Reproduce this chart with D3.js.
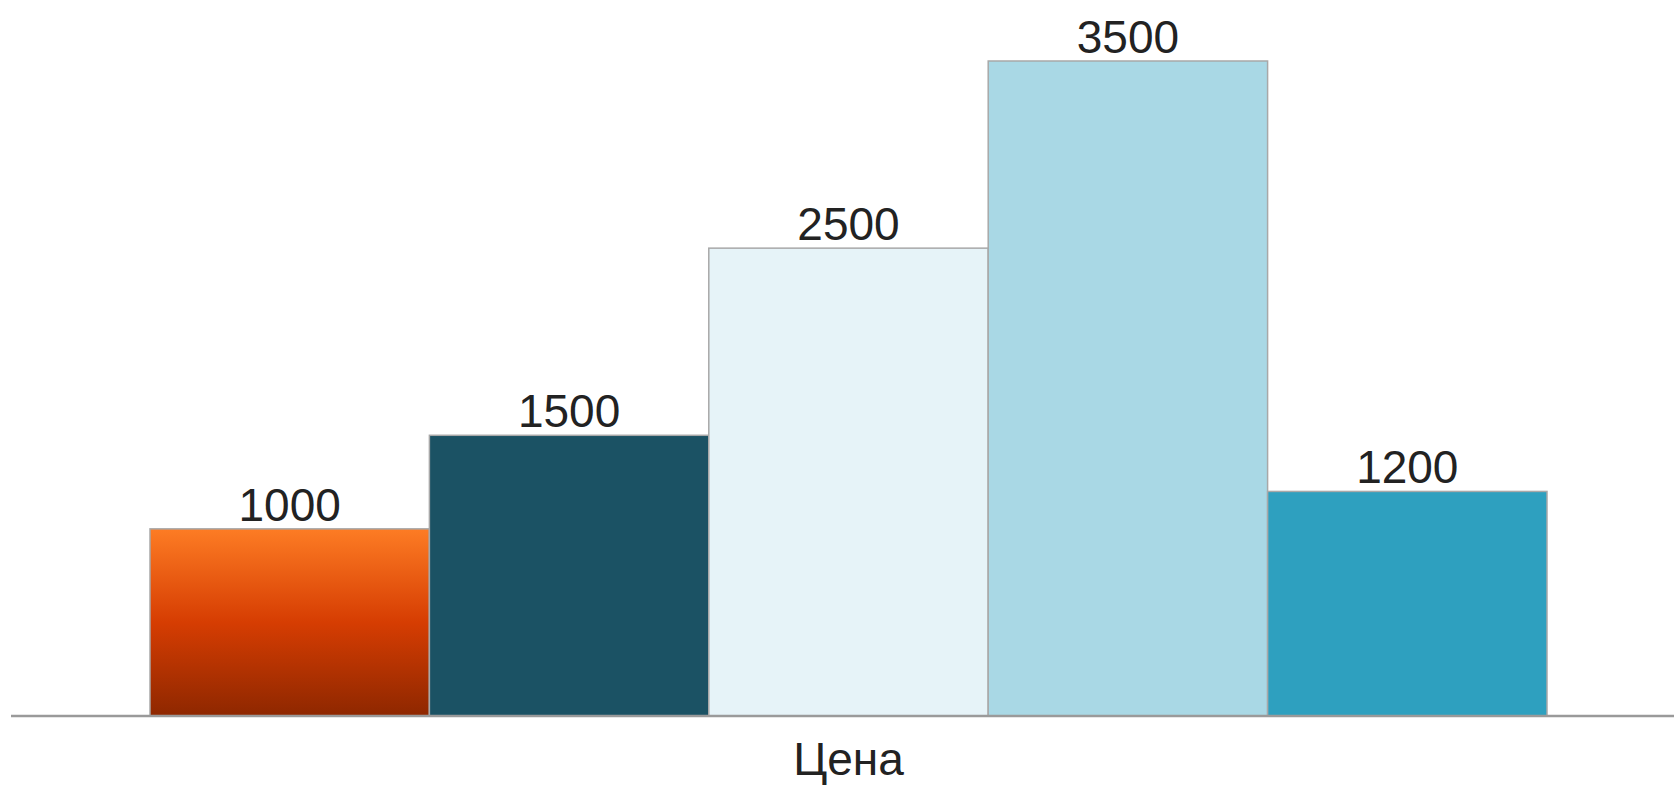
<!DOCTYPE html>
<html>
<head>
<meta charset="utf-8">
<script src="https://cdn.jsdelivr.net/npm/d3@7/dist/d3.min.js"></script>
<style>
html,body{margin:0;padding:0;background:#fff;overflow:hidden;}
svg{display:block;}
</style>
</head>
<body>
<svg id="chart" width="1674" height="785"></svg>
<script>
const categories = ["Цена"];
const seriesNames = ["s1","s2","s3","s4","s5"];
const seriesValues = [1000, 1500, 2500, 3500, 1200];
const seriesColors = ["url(#gradOrange)", "#1b5264", "#e6f3f8", "#a9d8e5", "#2ea0bf"];

const svg = d3.select("#chart");
const W = 1674, H = 785;

const defs = svg.append("defs");
const g1 = defs.append("linearGradient").attr("id","gradOrange")
  .attr("x1","0").attr("y1","0").attr("x2","0").attr("y2","1");
g1.append("stop").attr("offset","0").attr("stop-color","#fd7c24");
g1.append("stop").attr("offset","0.5").attr("stop-color","#d63d02");
g1.append("stop").attr("offset","1").attr("stop-color","#8e2700");

const x0 = d3.scaleBand().domain(categories).range([150, 1547]).padding(0);
const x1 = d3.scaleBand().domain(seriesNames).range([0, x0.bandwidth()]).padding(0);
const y = d3.scaleLinear().domain([0, 3500]).range([716, 61]);

const data = seriesNames.map((n,i)=>({name:n, value:seriesValues[i], color:seriesColors[i]}));

const grp = svg.append("g").attr("transform", `translate(${x0(categories[0])},0)`);

grp.selectAll("rect").data(data).join("rect")
  .attr("x", d=>x1(d.name))
  .attr("y", d=>y(d.value))
  .attr("width", x1.bandwidth())
  .attr("height", d=>y(0)-y(d.value))
  .attr("fill", d=>d.color)
  .attr("stroke", "#a8a8a8")
  .attr("stroke-width", 1.5);

grp.selectAll("text.val").data(data).join("text")
  .attr("class","val")
  .attr("x", d=>x1(d.name)+x1.bandwidth()/2)
  .attr("y", d=>y(d.value)-8)
  .attr("text-anchor","middle")
  .attr("font-family","Liberation Sans, Arial, sans-serif")
  .attr("font-size", 46)
  .attr("fill","#222")
  .text(d=>d.value);

// baseline axis
const xAxis = d3.axisBottom(x0).tickSize(0).tickPadding(20);
const axG = svg.append("g").attr("transform", `translate(0,${y(0)})`).call(xAxis);
axG.select(".domain").attr("d", `M11,0H${W}`).attr("stroke","#9a9a9a").attr("stroke-width",2.5);
axG.selectAll(".tick text")
  .attr("font-family","Liberation Sans, Arial, sans-serif")
  .attr("font-size", 46)
  .attr("fill","#222")
  .attr("dy", null)
  .attr("y", 59);
</script>
</body>
</html>
